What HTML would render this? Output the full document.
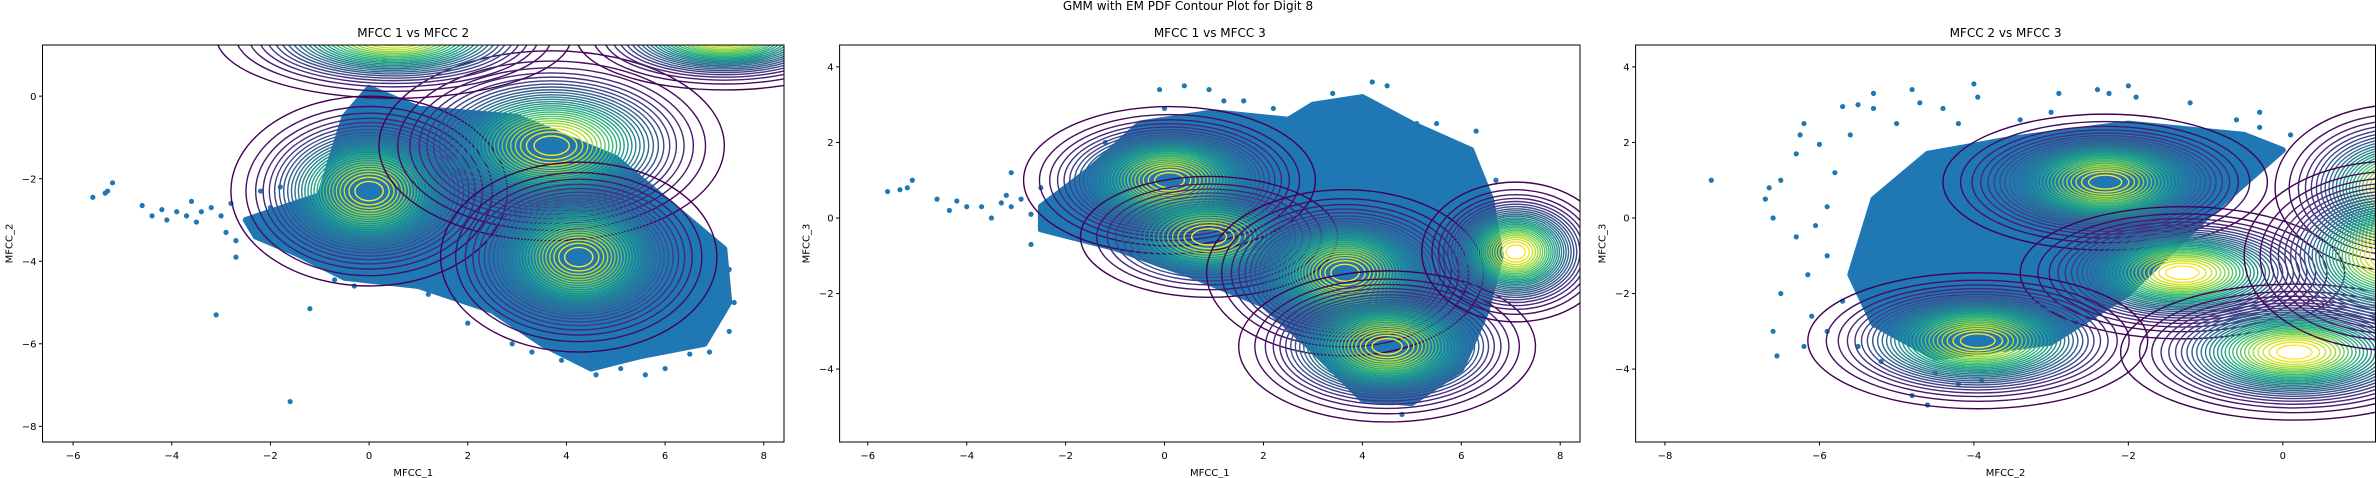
<!DOCTYPE html>
<html><head><meta charset="utf-8"><style>
html,body{margin:0;padding:0;background:#fff;}
svg{display:block;font-family:"DejaVu Sans","Liberation Sans",sans-serif;}
</style></head><body>
<svg id="fig" width="2376" height="478" viewBox="0 0 2376 478" xmlns="http://www.w3.org/2000/svg">
<text x="1188" y="10" font-size="12" text-anchor="middle">GMM with EM PDF Contour Plot for Digit 8</text>
</svg>
<script>
// ---------- data ----------
const panelTitles = ["MFCC 1 vs MFCC 2", "MFCC 1 vs MFCC 3", "MFCC 2 vs MFCC 3"];
const xLabels = ["MFCC_1", "MFCC_1", "MFCC_2"];
const yLabels = ["MFCC_2", "MFCC_3", "MFCC_3"];
const xTicks = [[-6,-4,-2,0,2,4,6,8],[-6,-4,-2,0,2,4,6,8],[-8,-6,-4,-2,0]];
const yTicks = [[-8,-6,-4,-2,0],[-4,-2,0,2,4],[-4,-2,0,2,4]];
const xLims = [[-6.62,8.41],[-6.57,8.4],[-8.38,1.2]];
const yLims = [[-8.38,1.24],[-5.93,4.58],[-5.93,4.58]];
// GMM components: [meanX, meanY, radiusX, radiusY, levels]
const comps1 = [[0,-2.3,2.8,2.3,28],[3.7,-1.2,3.5,2.3,28],[4.25,-3.9,2.8,2.3,28],[0.5,1.45,3.6,1.5,26],[7.2,1.45,3.0,1.3,26]];
const comps2 = [[0.1,1.0,2.95,1.95,28],[0.9,-0.5,2.6,1.6,18],[3.65,-1.45,2.8,2.2,28],[4.5,-3.4,3.0,2.0,28],[7.1,-0.9,1.9,1.85,28]];
const comps3 = [[-2.3,0.95,2.1,1.8,28],[-1.3,-1.45,2.1,1.75,28],[-3.95,-3.25,2.2,1.8,28],[0.15,-3.55,2.25,1.8,28],[1.5,0.8,1.6,2.2,24],[1.4,-1.0,1.9,2.5,28]];
// dense cloud outlines (data coords)
const cloud1 = [[-2.5,-3.0],[-1,-2.4],[-0.5,-0.5],[0,0.2],[1,-0.3],[3,-0.5],[5,-1.5],[6.3,-2.8],[7.2,-3.7],[7.3,-5.0],[6.8,-6.0],[5.5,-6.3],[4.5,-6.6],[3.5,-6.0],[2.5,-5.2],[1,-4.6],[-0.5,-4.4],[-1.5,-3.8],[-2.3,-3.4]];
const cloud2 = [[-2.5,0.3],[-1.5,1.3],[-0.5,2.5],[1,2.8],[2.5,2.6],[3,3],[4,3.2],[5,2.5],[6.2,1.8],[6.6,0.5],[6.8,-1.0],[6.5,-2.5],[6,-4],[5,-4.9],[4,-4.8],[3,-3.5],[2,-2.3],[0.5,-1.5],[-1,-0.8],[-2.5,-0.3]];
const cloud3 = [[-5.3,0.5],[-4.6,1.7],[-3.5,2.1],[-2,2.5],[-0.5,2.2],[0,1.8],[-1,0],[-2,-2],[-3,-3.3],[-4.5,-3.7],[-5.3,-2.8],[-5.6,-1.5]];
// scattered points
const pts1 = [[-5.6,-2.45],[-5.35,-2.35],[-5.2,-2.1],[-5.3,-2.3],[-4.6,-2.65],[-4.4,-2.9],[-4.2,-2.75],[-4.1,-3.0],[-3.9,-2.8],[-3.7,-2.9],[-3.6,-2.55],[-3.4,-2.8],[-3.2,-2.7],[-3.0,-2.9],[-2.8,-2.6],[-3.5,-3.05],[-2.9,-3.3],[-2.7,-3.5],[-2.7,-3.9],[-3.1,-5.3],[-1.6,-7.4],[-1.2,-5.15],[-0.7,-4.45],[1.2,-4.8],[3.3,-6.2],[5.6,-6.75],[6.0,-6.6],[6.5,-6.25],[6.9,-6.2],[7.3,-5.7],[7.4,-5.0],[7.3,-4.2],[7.1,-3.9],[2.9,-6.0],[4.6,-6.75],[0,0.2],[-0.2,-0.2],[-2.2,-2.3],[-1.8,-2.2],[-2.0,-2.7],[-2.4,-3.2],[-1.6,-3.5],[-0.3,-4.6],[2.0,-5.5],[7.0,-5.4],[6.6,-5.9],[5.1,-6.6],[3.9,-6.4]];
const pts2 = [[-5.6,0.7],[-5.35,0.75],[-5.2,0.8],[-5.1,1.0],[-4.6,0.5],[-4.35,0.2],[-4.2,0.45],[-4.0,0.3],[-3.7,0.3],[-3.5,0.0],[-3.3,0.4],[-3.1,0.3],[-2.9,0.5],[-2.7,0.1],[-2.7,-0.7],[-3.2,0.6],[-3.1,1.2],[-2.5,0.8],[-0.1,3.4],[0.4,3.5],[0.9,3.4],[1.2,3.1],[1.6,3.1],[4.2,3.6],[4.5,3.5],[3.4,3.3],[5.5,2.5],[6.3,2.3],[6.2,1.8],[5.9,1.8],[5.1,2.5],[4.7,2.7],[5.3,1.7],[0.5,2.0],[4.8,-5.2],[-1.8,1.0],[-2.0,0.2],[-1.2,2.0],[0.0,2.9],[2.2,2.9],[6.7,1.0]];
const pts3 = [[-7.4,1.0],[-6.7,0.5],[-6.65,0.8],[-6.6,0.0],[-6.5,1.0],[-6.5,-2.0],[-6.6,-3.0],[-6.55,-3.65],[-6.3,1.7],[-6.25,2.2],[-6.2,2.5],[-6.0,1.95],[-5.7,2.95],[-5.5,3.0],[-5.3,3.3],[-5.3,2.9],[-4.8,3.4],[-4.7,3.05],[-4.0,3.55],[-3.95,3.2],[-4.4,2.9],[-3.4,2.6],[-2.9,3.3],[-2.4,3.4],[-2.25,3.3],[-2.0,3.5],[-1.9,3.2],[-1.2,3.05],[-0.6,2.6],[-0.3,2.8],[0.1,2.2],[-0.3,2.4],[-6.3,-0.5],[-6.15,-1.5],[-6.1,-2.6],[-6.2,-3.4],[-5.9,-3.0],[-5.2,-3.8],[-4.8,-4.7],[-4.6,-4.95],[-4.2,-4.4],[-3.9,-4.3],[-5.9,-1.0],[-6.05,-0.2],[-5.8,1.2],[-5.6,2.2],[-5.0,2.5],[-4.2,2.5],[-3.0,2.8],[-5.9,0.3],[-5.7,-2.2],[-5.5,-3.4],[-4.5,-4.1]];

const compsAll = [comps1, comps2, comps3];
const cloudsAll = [cloud1, cloud2, cloud3];
const ptsAll = [pts1, pts2, pts3];
const boxes = [[42.5,784],[839.6,1580],[1635.6,2375.5]];
const TOP = 45, BOT = 442;

const NS = "http://www.w3.org/2000/svg";
const svg = document.getElementById("fig");
const vir = [[68,1,84],[72,40,120],[62,74,137],[49,104,142],[38,130,142],[31,158,137],[53,183,121],[109,205,89],[180,222,44],[253,231,37]];
function viridis(t){t=Math.max(0,Math.min(1,t));const f=t*(vir.length-1);const i=Math.min(vir.length-2,Math.floor(f));const u=f-i;
 const c=vir[i].map((v,k)=>Math.round(v+(vir[i+1][k]-v)*u));return `rgb(${c[0]},${c[1]},${c[2]})`;}
function mk(tag, attrs, parent){const e=document.createElementNS(NS,tag);for(const k in attrs)e.setAttribute(k,attrs[k]);(parent||svg).appendChild(e);return e;}

for (let p=0;p<3;p++){
  const [L,R]=boxes[p];
  const sx=v=>L+(v-xLims[p][0])/(xLims[p][1]-xLims[p][0])*(R-L);
  const sy=v=>BOT-(v-yLims[p][0])/(yLims[p][1]-yLims[p][0])*(BOT-TOP);
  const g=mk("g",{});
  
  
  const cp=mk("clipPath",{id:"clip"+p},g);
  mk("rect",{x:L,y:TOP,width:R-L,height:BOT-TOP},cp);
  const plot=mk("g",{"clip-path":`url(#clip${p})`},g);
  const poly=mk("polygon",{points:cloudsAll[p].map(q=>sx(q[0])+","+sy(q[1])).join(" "),fill:"#1f77b4",stroke:"#1f77b4","stroke-width":6,"stroke-linejoin":"round"},plot);
  
  
  ptsAll[p].forEach(q=>{
    const c=mk("circle",{cx:sx(q[0]),cy:sy(q[1]),r:2.6,fill:"#1f77b4"},plot);
    
    
  });
  const ux=(R-L)/(xLims[p][1]-xLims[p][0]), uy=(BOT-TOP)/(yLims[p][1]-yLims[p][0]);
  compsAll[p].forEach(c=>{
    const [mx,my,rx,ry,n]=c;
    const cg=mk("g",{},plot);
    
    
    const r0=Math.sqrt(-2*Math.log(1/(n+1)));
    for(let k=1;k<=n;k++){
      const r=Math.sqrt(-2*Math.log(k/(n+1)))/r0;
      const e=mk("ellipse",{cx:sx(mx),cy:sy(my),rx:rx*ux*r,ry:ry*uy*r,fill:"none",stroke:viridis((k-1)/(n-1)),"stroke-width":1.4},cg);
      
      
    }
  });
  const fr=mk("rect",{x:L,y:TOP,width:R-L,height:BOT-TOP,fill:"none",stroke:"#000","stroke-width":1},g);
  
  
  xTicks[p].forEach(v=>{
    mk("line",{x1:sx(v),x2:sx(v),y1:BOT,y2:BOT+3.5,stroke:"#000"},g);
    const t=mk("text",{x:sx(v),y:459,"font-size":10,"text-anchor":"middle"},g);
    t.textContent=(v<0?"\u2212"+(-v):String(v));
    
    
  });
  yTicks[p].forEach(v=>{
    mk("line",{x1:L-3.5,x2:L,y1:sy(v),y2:sy(v),stroke:"#000"},g);
    const t=mk("text",{x:L-6,y:sy(v)+3.6,"font-size":10,"text-anchor":"end"},g);
    t.textContent=(v<0?"\u2212"+(-v):String(v));
    
    
  });
  const tt=mk("text",{x:(L+R)/2,y:37,"font-size":12,"text-anchor":"middle"},g);
  tt.textContent=panelTitles[p];
  
  
  const xl=mk("text",{x:(L+R)/2,y:476,"font-size":10,"text-anchor":"middle"},g);
  xl.textContent=xLabels[p];
  
  
  const yx=L-30;
  const yl=mk("text",{x:yx,y:(TOP+BOT)/2,"font-size":10,"text-anchor":"middle",transform:`rotate(-90 ${yx} ${(TOP+BOT)/2})`},g);
  yl.textContent=yLabels[p];
  
  
}
</script>
</body></html>
